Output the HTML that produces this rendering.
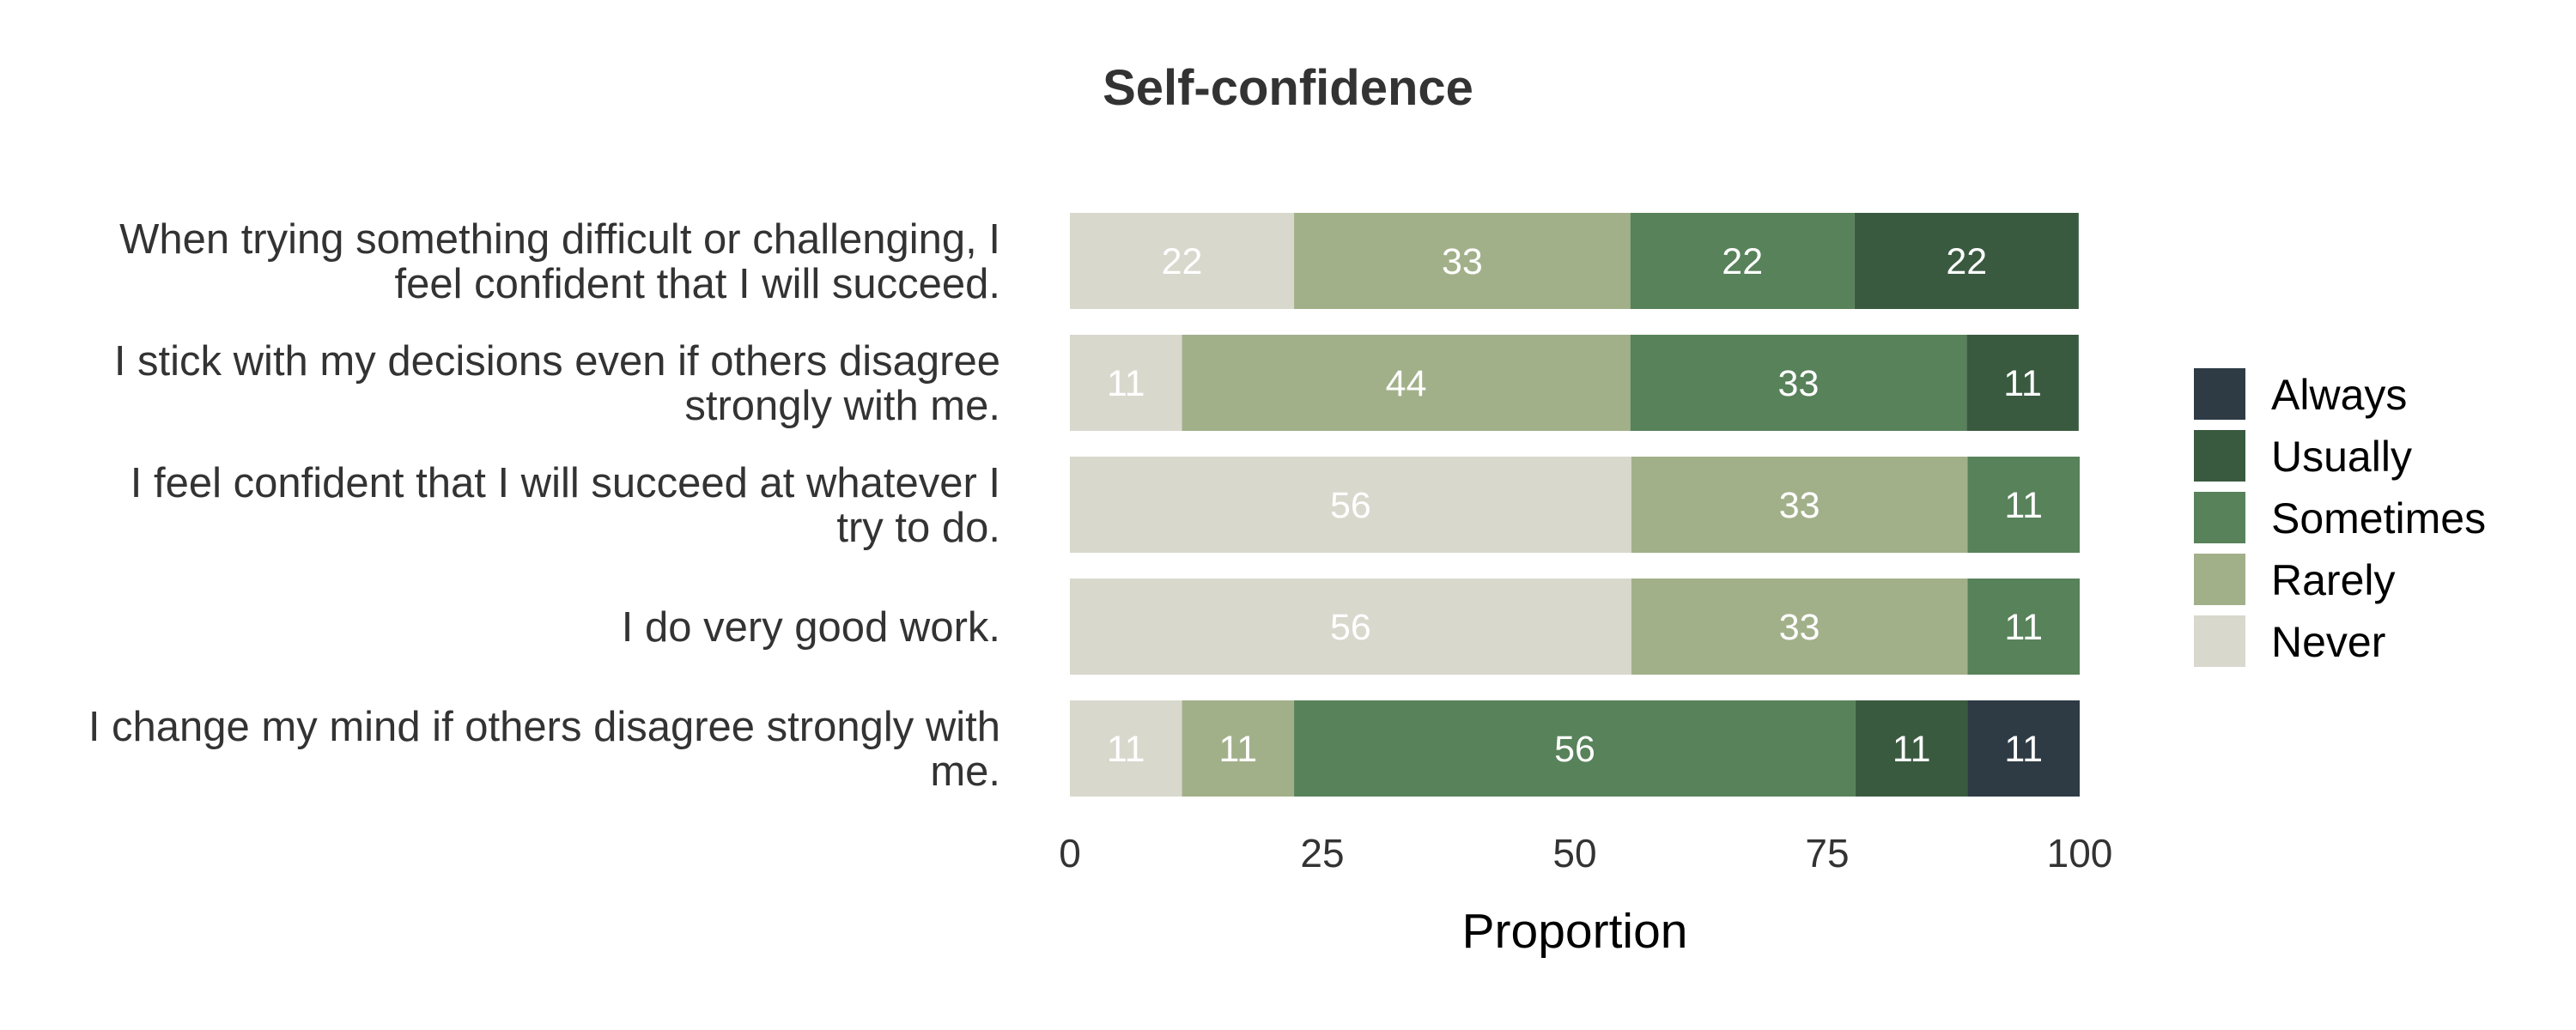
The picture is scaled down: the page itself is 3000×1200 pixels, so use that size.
<!DOCTYPE html>
<html><head><meta charset="utf-8"><style>
html,body{margin:0;padding:0;background:#fff;}
svg{display:block;font-family:"Liberation Sans",Arial,sans-serif;}
</style></head><body>
<svg id="chart" width="3000" height="1200" viewBox="0 0 3000 1200">
<text x="1500" y="122" text-anchor="middle" font-size="58" font-weight="bold" fill="#333">Self-confidence</text>
<text x="1834" y="1104" text-anchor="middle" font-size="57" fill="#000">Proportion</text>
</svg>
<script>
const questions = [
 ["When trying something difficult or challenging, I","feel confident that I will succeed."],
 ["I stick with my decisions even if others disagree","strongly with me."],
 ["I feel confident that I will succeed at whatever I","try to do."],
 ["I do very good work."],
 ["I change my mind if others disagree strongly with","me."]
];
const categories = ["Never","Rarely","Sometimes","Usually","Always"];
const colors = ["#d9d8cd","#a2b08a","#58825a","#3a5a40","#2e3b45"];
const never = [22.2, 11.1, 55.6, 55.6, 11.1];
const rarely = [33.3, 44.4, 33.3, 33.3, 11.1];
const sometimes = [22.2, 33.3, 11.1, 11.1, 55.6];
const usually = [22.2, 11.1, 0, 0, 11.1];
const always = [0, 0, 0, 0, 11.1];
const xTicks = [0, 25, 50, 75, 100];

const svg = document.getElementById('chart');
const NS = 'http://www.w3.org/2000/svg';
const X0 = 1246, X1 = 2422, TOP = 248, STEP = 142, BH = 112;
const xs = v => X0 + (X1 - X0) * v / 100;
const ys = i => TOP + i * STEP;
function mk(tag, attrs){const e=document.createElementNS(NS,tag);for(const k in attrs)e.setAttribute(k,attrs[k]);svg.appendChild(e);return e;}
const series = [never, rarely, sometimes, usually, always];

questions.forEach((q, i) => {
  const y = ys(i);
  let cum = 0;
  series.forEach((s, j) => {
    const v = s[i];
    if (v <= 0) return;
    const r = mk('rect', {x: xs(cum), y: y, width: xs(cum + v) - xs(cum), height: BH, fill: colors[j]});
    
    
    const t = mk('text', {x: (xs(cum) + xs(cum + v)) / 2, y: y + BH / 2 + 15, 'text-anchor': 'middle', 'font-size': 43, fill: '#fff'});
    t.textContent = Math.round(v);
    
    
    cum += v;
  });
  const lines = q;
  const lh = 52;
  const startY = y + BH / 2 + 17 - (lines.length - 1) * lh / 2;
  lines.forEach((ln, k) => {
    const t = mk('text', {x: 1165, y: startY + k * lh, 'text-anchor': 'end', 'font-size': 49, fill: '#333'});
    t.textContent = ln;
    
    
  });
});

xTicks.forEach(v => {
  const t = mk('text', {x: xs(v), y: 1010, 'text-anchor': 'middle', 'font-size': 46, fill: '#333'});
  t.textContent = v;
  
  
});

const legendOrder = [4, 3, 2, 1, 0];
legendOrder.forEach((j, k) => {
  const y = 429 + k * 72;
  const r = mk('rect', {x: 2555, y: y, width: 60, height: 60, fill: colors[j]});
  
  
  const t = mk('text', {x: 2645, y: y + 48, 'font-size': 50, fill: '#000'});
  t.textContent = categories[j];
  
  
});
</script>
</body></html>
